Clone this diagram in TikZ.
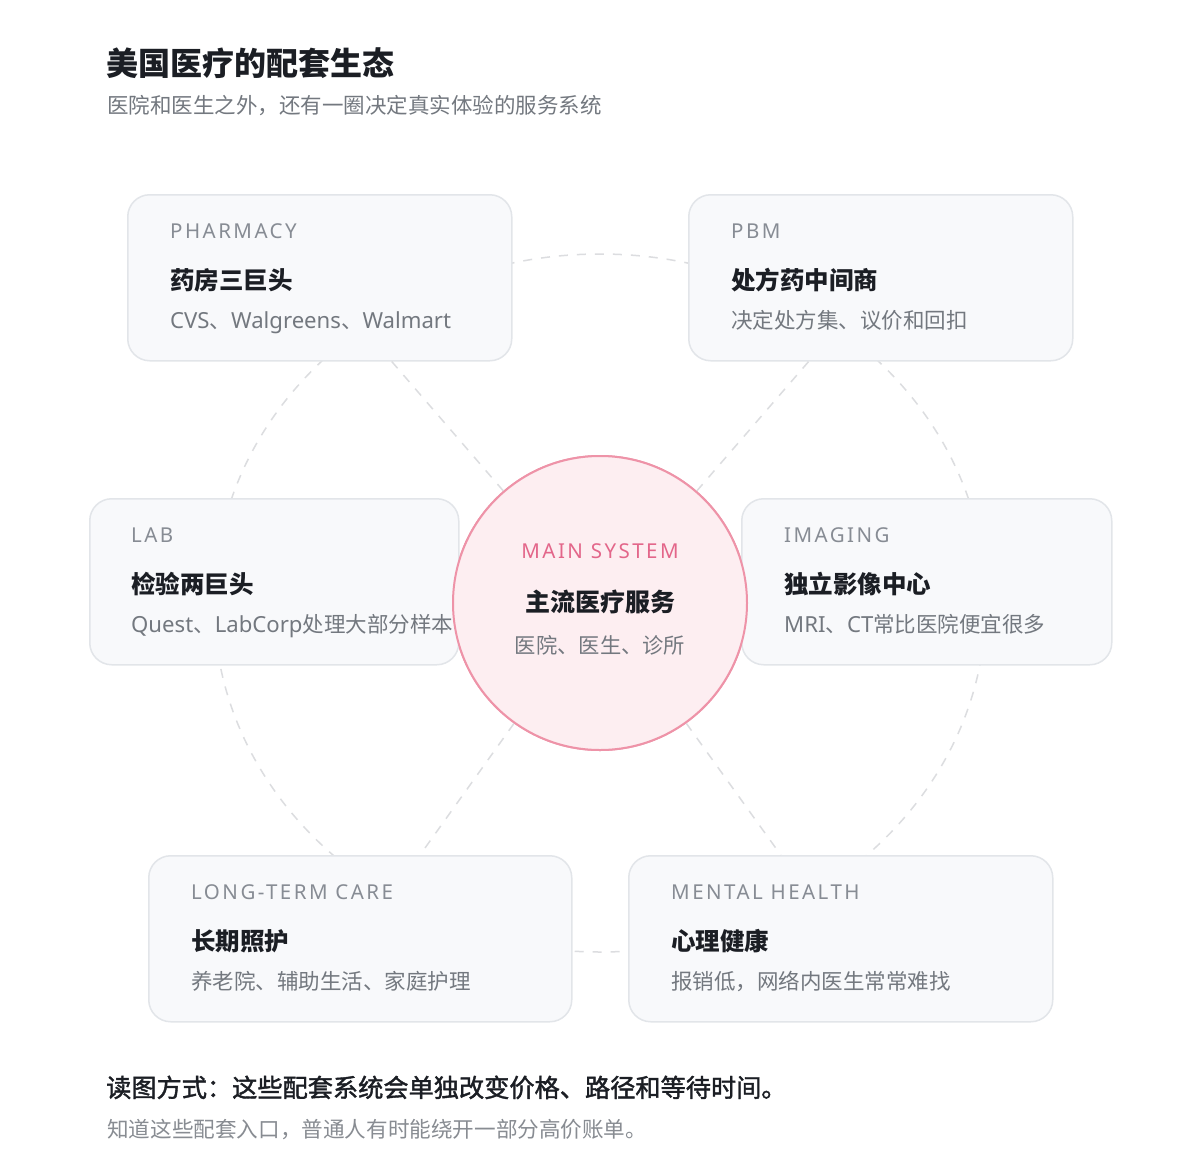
\documentclass[tikz,border=0pt]{standalone}
\usepackage{fontspec}
\setmainfont{Noto Sans CJK SC}
\newfontfamily\capsfont[LetterSpace=12]{Noto Sans}
\newfontfamily\latinfont[Scale=1.03]{Noto Sans}
\newfontfamily\medfont[FakeBold=1.6]{Noto Sans CJK SC}
\definecolor{ink}{HTML}{1B1E24}
\definecolor{subgray}{HTML}{73787F}
\definecolor{labgray}{HTML}{878C94}
\definecolor{boxfill}{HTML}{F8F9FB}
\definecolor{boxline}{HTML}{E2E5E9}
\definecolor{dashc}{HTML}{DCDDE0}
\definecolor{pinkfill}{HTML}{FDEEF1}
\definecolor{pinkline}{HTML}{EE93A8}
\definecolor{pinktext}{HTML}{E3668A}
\newcommand\lt[1]{{\latinfont #1}}
\tikzset{
  card/.style={draw=boxline, fill=boxfill, line width=1.5pt, rounded corners=22pt,
    minimum height=166pt, anchor=north west, inner sep=0pt},
  labtext/.style={anchor=base west, inner sep=0pt, text=labgray, font=\capsfont\fontsize{20.5}{24}\selectfont},
  ttltext/.style={anchor=base west, inner sep=0pt, text=ink, font=\bfseries\fontsize{24.5}{28}\selectfont},
  subtext/.style={anchor=base west, inner sep=0pt, text=subgray, font=\fontsize{21.5}{25}\selectfont},
  dashline/.style={draw=dashc, line width=1.5pt, dash pattern=on 9pt off 9pt},
  maincircle/.style={circle, draw=pinkline, fill=pinkfill, line width=2pt, minimum size=294pt, inner sep=0pt},
}
\newcommand\mycard[8]{%
  \node[card, minimum width=#4] (#1) at (#2,#3) {};
  \node[labtext] (#1-l) at ([xshift=#8,yshift=-44pt]#1.north west) {#5};
  \node[ttltext] (#1-t) at ([xshift=#8,yshift=-95pt]#1.north west) {#6};
  \node[subtext] (#1-s) at ([xshift=#8,yshift=-134pt]#1.north west) {#7};
}
\begin{document}
\begin{tikzpicture}[x=1pt,y=-1pt]
\useasboundingbox[fill=white] (0,0) rectangle (1200,1165);
% header
\node[anchor=base west, inner sep=0pt, text=ink, font=\bfseries\fontsize{32}{38}\selectfont] (title) at (106,75) {美国医疗的配套生态};
\node[anchor=base west, inner sep=0pt, text=subgray, font=\fontsize{21.5}{25}\selectfont] (subtitle) at (107,113) {医院和医生之外，还有一圈决定真实体验的服务系统};
% dashed ring
\draw[dashline] (600,603) ellipse [x radius=386, y radius=349];
% center node
\node[maincircle] (main) at (600,603) {};
% cards
\mycard{pharm}{127}{194}{384pt}{PHARMACY}{药房三巨头}{\lt{CVS}、\lt{Walgreens}、\lt{Walmart}}{43pt}
\mycard{pbm}{688}{194}{384pt}{PBM}{处方药中间商}{决定处方集、议价和回扣}{43pt}
\mycard{lab}{89}{498}{369pt}{LAB}{检验两巨头}{\lt{Quest}、\lt{LabCorp}处理大部分样本}{42pt}
\mycard{img}{741}{498}{370pt}{IMAGING}{独立影像中心}{\lt{MRI}、\lt{CT}常比医院便宜很多}{43pt}
\mycard{ltc}{148}{855}{423pt}{LONG-TERM CARE}{长期照护}{养老院、辅助生活、家庭护理}{43pt}
\mycard{mh}{628}{855}{424pt}{MENTAL HEALTH}{心理健康}{报销低，网络内医生常常难找}{43pt}
% spokes
\draw[dashline] (main) -- (pharm);
\draw[dashline] (main) -- (pbm);
\draw[dashline] (main) -- (ltc);
\draw[dashline] (main) -- (mh);
% center circle on top
\node[maincircle] (mainfront) at (600,603) {};
\node[anchor=base, inner sep=0pt, text=pinktext, font=\capsfont\fontsize{20.5}{24}\selectfont] (main-l) at (600,558) {MAIN SYSTEM};
\node[anchor=base, inner sep=0pt, text=ink, font=\bfseries\fontsize{25}{29}\selectfont] (main-t) at (600,611) {主流医疗服务};
\node[anchor=base, inner sep=0pt, text=subgray, font=\fontsize{21.3}{25}\selectfont] (main-s) at (600,653) {医院、医生、诊所};
% footer
\node[anchor=base west, inner sep=0pt, text=ink, font=\medfont\fontsize{25.2}{29}\selectfont] (foot1) at (106,1097) {读图方式：这些配套系统会单独改变价格、路径和等待时间。};
\node[anchor=base west, inner sep=0pt, text=subgray!85, font=\fontsize{21.6}{25}\selectfont] (foot2) at (107,1137) {知道这些配套入口，普通人有时能绕开一部分高价账单。};
\end{tikzpicture}
\end{document}
